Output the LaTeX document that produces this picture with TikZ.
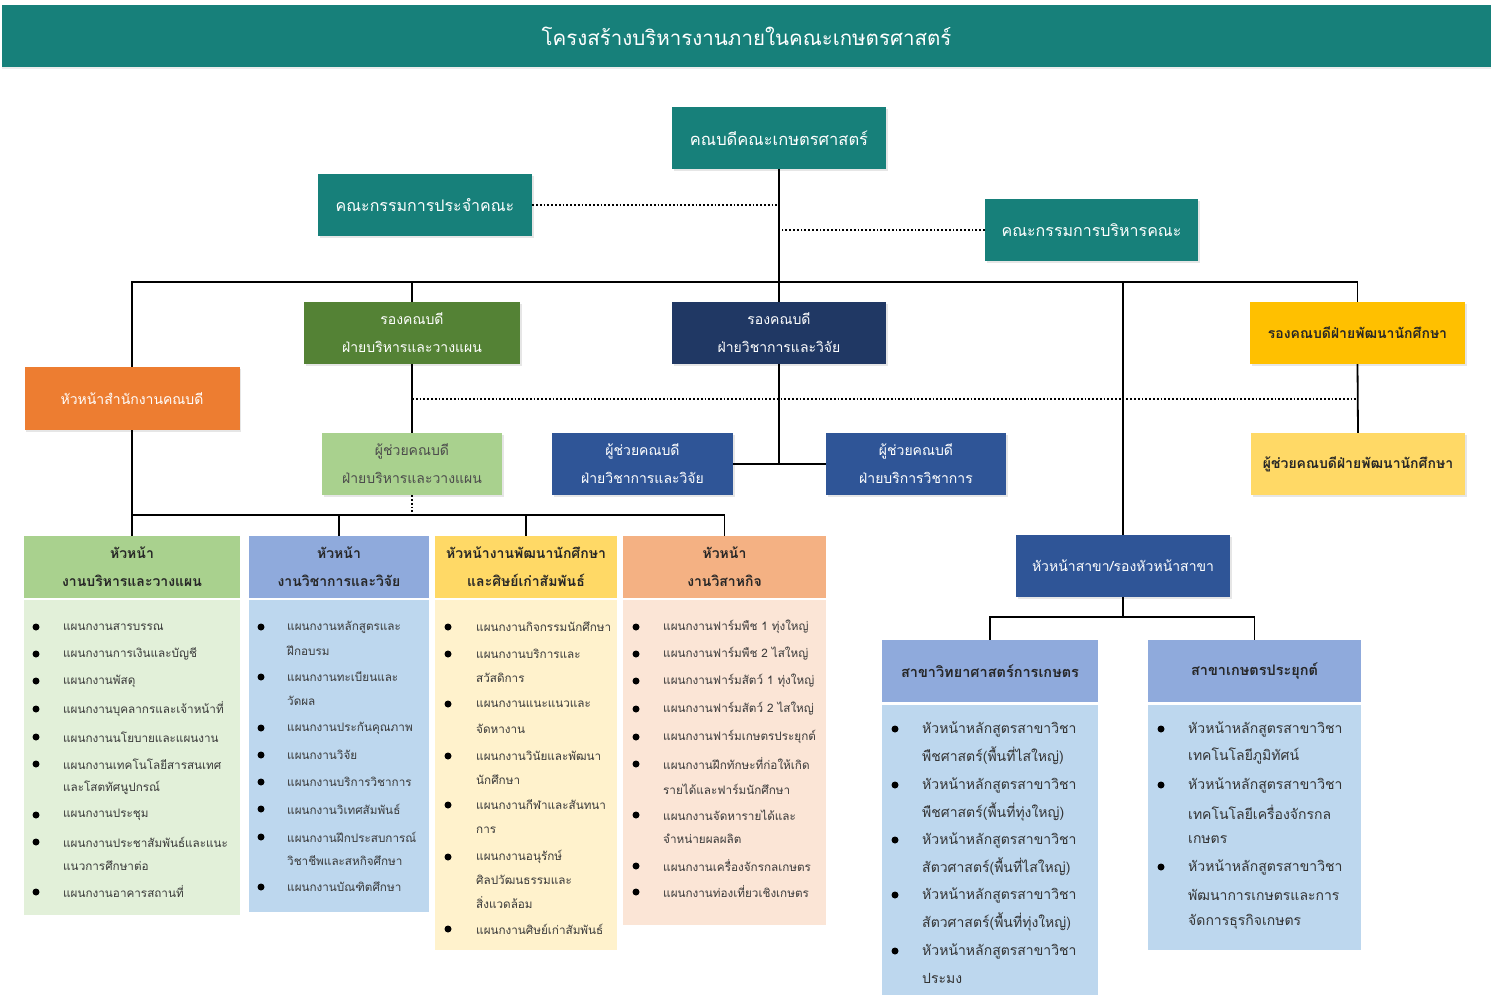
\documentclass[tikz,border=0pt]{standalone}
\usepackage{fontspec}
\usepackage{xcolor}
\newfontfamily\thaifont[Script=Thai]{Loma}
\usetikzlibrary{shadows}

\definecolor{facteal}{HTML}{17807A}
\definecolor{plangreen}{HTML}{548235}
\definecolor{acadnavy}{HTML}{203864}
\definecolor{studgold}{HTML}{FFC000}
\definecolor{officeorange}{HTML}{ED7D31}
\definecolor{asgreen}{HTML}{A9D18E}
\definecolor{asblue}{HTML}{2F5597}
\definecolor{asyellow}{HTML}{FFD966}
\definecolor{headblue}{HTML}{8FAADC}
\definecolor{bodyblue}{HTML}{BDD7EE}
\definecolor{bodygreen}{HTML}{E2F0D9}
\definecolor{bodyyellow}{HTML}{FFF2CC}
\definecolor{headpeach}{HTML}{F4B183}
\definecolor{bodypeach}{HTML}{FBE5D6}
\definecolor{listtext}{HTML}{3A3A3A}

\tikzset{
  box/.style={minimum height=62pt, inner sep=2pt, align=center, text=white,
    font=\thaifont\fontsize{14}{28}\selectfont,
    drop shadow={shadow xshift=1.5pt, shadow yshift=-1.5pt, opacity=0.2}},
  colhead/.style={minimum height=62pt, inner sep=2pt, align=center, text=black!85,
    font=\thaifont\bfseries\fontsize{14}{28}\selectfont},
  colbody/.style={inner sep=0pt},
  item/.style={anchor=west, inner sep=0pt, text=listtext, font=\thaifont\fontsize{11.7}{14}\selectfont},
  bigitem/.style={anchor=west, inner sep=0pt, text=black!80, font=\thaifont\fontsize{14}{16}\selectfont},
  conn/.style={line width=1.8pt, black},
  dot/.style={line width=1.8pt, black, dotted}
}

\begin{document}
\begin{tikzpicture}[x=1pt,y=-1pt]
  \useasboundingbox (0,0) rectangle (1491,996);

  % title bar
  \node[fill=facteal, minimum width=1489pt, minimum height=62pt, text=white,
    font=\thaifont\fontsize{20.5}{24}\selectfont,
    drop shadow={shadow xshift=0pt, shadow yshift=-2pt, opacity=0.15}] (title) at (746.5,36) {โครงสร้างบริหารงานภายในคณะเกษตรศาสตร์};

  % top level
  \node[box, fill=facteal, minimum width=214pt, font=\thaifont\fontsize{16.5}{20}\selectfont] (dean) at (779,138) {คณบดีคณะเกษตรศาสตร์};
  \node[box, fill=facteal, minimum width=214pt, font=\thaifont\fontsize{16}{20}\selectfont] (board) at (425,205) {คณะกรรมการประจำคณะ};
  \node[box, fill=facteal, minimum width=213pt, font=\thaifont\fontsize{16}{20}\selectfont] (exec) at (1091.5,230) {คณะกรรมการบริหารคณะ};

  % vice deans
  \node[box, fill=plangreen, minimum width=216pt] (vpPlan) at (412,333) {รองคณบดี\\ฝ่ายบริหารและวางแผน};
  \node[box, fill=acadnavy, minimum width=214pt] (vpAcad) at (779,333) {รองคณบดี\\ฝ่ายวิชาการและวิจัย};
  \node[box, fill=studgold, minimum width=215pt, text=black!85, font=\thaifont\bfseries\fontsize{14}{28}\selectfont] (vpStud) at (1357.5,333) {รองคณบดีฝ่ายพัฒนานักศึกษา};
  \node[box, fill=officeorange, minimum width=215pt, minimum height=63pt] (office) at (132,398.5) {หัวหน้าสำนักงานคณบดี};

  % assistants
  \node[box, fill=asgreen, minimum width=180pt, text=black!70] (asPlan) at (412,464) {ผู้ช่วยคณบดี\\ฝ่ายบริหารและวางแผน};
  \node[box, fill=asblue, minimum width=181pt] (asAcad) at (642.5,464) {ผู้ช่วยคณบดี\\ฝ่ายวิชาการและวิจัย};
  \node[box, fill=asblue, minimum width=180pt] (asServ) at (916,464) {ผู้ช่วยคณบดี\\ฝ่ายบริการวิชาการ};
  \node[box, fill=asyellow, minimum width=214pt, text=black!85, font=\thaifont\bfseries\fontsize{14}{28}\selectfont] (asStud) at (1358,464) {ผู้ช่วยคณบดีฝ่ายพัฒนานักศึกษา};

  \node[box, fill=asblue, minimum width=214pt] (branchHead) at (1123,566) {หัวหน้าสาขา/รองหัวหน้าสาขา};

  % column heads and bodies
  \node[colhead, fill=asgreen, minimum width=216pt] (h1) at (132,567) {หัวหน้า\\งานบริหารและวางแผน};
  \node[colhead, fill=headblue, minimum width=180pt] (h2) at (339,567) {หัวหน้า\\งานวิชาการและวิจัย};
  \node[colhead, fill=asyellow, minimum width=182pt] (h3) at (526,567) {หัวหน้างานพัฒนานักศึกษา\\และศิษย์เก่าสัมพันธ์};
  \node[colhead, fill=headpeach, minimum width=203pt] (h4) at (724.5,567) {หัวหน้า\\งานวิสาหกิจ};
  \node[colbody, fill=bodygreen, minimum width=216pt, minimum height=315pt] (b1) at (132,757.5) {};
  \node[colbody, fill=bodyblue, minimum width=180pt, minimum height=312pt] (b2) at (339,756) {};
  \node[colbody, fill=bodyyellow, minimum width=182pt, minimum height=350pt] (b3) at (526,775) {};
  \node[colbody, fill=bodypeach, minimum width=203pt, minimum height=325pt] (b4) at (724.5,762.5) {};

  % branches
  \node[colhead, fill=headblue, minimum width=216pt, font=\thaifont\bfseries\fontsize{14.5}{28}\selectfont] (s1) at (990,671) {สาขาวิทยาศาสตร์การเกษตร};
  \node[colhead, fill=headblue, minimum width=213pt, font=\thaifont\bfseries\fontsize{14.5}{28}\selectfont] (s2) at (1254.5,671) {สาขาเกษตรประยุกต์};
  \node[colbody, fill=bodyblue, minimum width=216pt, minimum height=290pt] (sb1) at (990,850) {};
  \node[colbody, fill=bodyblue, minimum width=213pt, minimum height=245pt] (sb2) at (1254.5,827.5) {};

  % lists
  \foreach \y/\t in {627/แผนกงานสารบรรณ, 654/แผนกงานการเงินและบัญชี, 681/แผนกงานพัสดุ,
      709/แผนกงานบุคลากรและเจ้าหน้าที่, 737/แผนกงานนโยบายและแผนงาน,
      764/แผนกงานเทคโนโลยีสารสนเทศ, 788/และโสตทัศนูปกรณ์, 815/แผนกงานประชุม,
      842/แผนกงานประชาสัมพันธ์และแนะ, 866/แนวการศึกษาต่อ, 892/แผนกงานอาคารสถานที่}
    \node[item] (l1-\y) at (63,\y) {\t};
  \foreach \y in {627,654,681,709,737,764,815,842,892}
    \fill (36,\y) circle (3.5pt);

  \foreach \y/\t in {627/แผนกงานหลักสูตรและ, 651/ฝึกอบรม, 677/แผนกงานทะเบียนและ, 701/วัดผล,
      728/แผนกงานประกันคุณภาพ, 755/แผนกงานวิจัย, 782/แผนกงานบริการวิชาการ,
      809/แผนกงานวิเทศสัมพันธ์, 837/แผนกงานฝึกประสบการณ์, 861/วิชาชีพและสหกิจศึกษา,
      887/แผนกงานบัณฑิตศึกษา}
    \node[item] (l2-\y) at (287,\y) {\t};
  \foreach \y in {627,677,728,755,782,809,837,887}
    \fill (261,\y) circle (3.5pt);

  \foreach \y/\t in {627/แผนกงานกิจกรรมนักศึกษา, 654/แผนกงานบริการและ, 678/สวัสดิการ,
      704/แผนกงานแนะแนวและ, 729/จัดหางาน, 756/แผนกงานวินัยและพัฒนา, 780/นักศึกษา,
      805/แผนกงานกีฬาและสันทนา, 830/การ, 857/แผนกงานอนุรักษ์, 880/ศิลปวัฒนธรรมและ,
      903/สิ่งแวดล้อม, 929/แผนกงานศิษย์เก่าสัมพันธ์}
    \node[item] (l3-\y) at (476,\y) {\t};
  \foreach \y in {627,654,704,756,805,857,929}
    \fill (448,\y) circle (3.5pt);

  \foreach \y/\t in {627/แผนกงานฟาร์มพืช 1 ทุ่งใหญ่, 654/แผนกงานฟาร์มพืช 2 ไสใหญ่,
      681/แผนกงานฟาร์มสัตว์ 1 ทุ่งใหญ่, 709/แผนกงานฟาร์มสัตว์ 2 ไสใหญ่,
      737/แผนกงานฟาร์มเกษตรประยุกต์, 764/แผนกงานฝึกทักษะที่ก่อให้เกิด,
      789/รายได้และฟาร์มนักศึกษา, 815/แผนกงานจัดหารายได้และ, 839/จำหน่ายผลผลิต,
      866/แผนกงานเครื่องจักรกลเกษตร, 892/แผนกงานท่องเที่ยวเชิงเกษตร}
    \node[item] (l4-\y) at (663,\y) {\t};
  \foreach \y in {627,654,681,709,737,764,815,866,892}
    \fill (636,\y) circle (3.5pt);

  \foreach \y/\t in {729/หัวหน้าหลักสูตรสาขาวิชา, 756/พืชศาสตร์(พื้นที่ไสใหญ่),
      785/หัวหน้าหลักสูตรสาขาวิชา, 812/พืชศาสตร์(พื้นที่ทุ่งใหญ่),
      840/หัวหน้าหลักสูตรสาขาวิชา, 867/สัตวศาสตร์(พื้นที่ไสใหญ่),
      895/หัวหน้าหลักสูตรสาขาวิชา, 922/สัตวศาสตร์(พื้นที่ทุ่งใหญ่),
      951/หัวหน้าหลักสูตรสาขาวิชา, 978/ประมง}
    \node[bigitem] (m1-\y) at (922,\y) {\t};
  \foreach \y in {729,785,840,895,951}
    \fill (895,\y) circle (3.5pt);

  \foreach \y/\t in {729/หัวหน้าหลักสูตรสาขาวิชา, 756/เทคโนโลยีภูมิทัศน์,
      785/หัวหน้าหลักสูตรสาขาวิชา, 812/เทคโนโลยีเครื่องจักรกล, 840/เกษตร,
      867/หัวหน้าหลักสูตรสาขาวิชา, 895/พัฒนาการเกษตรและการ, 922/จัดการธุรกิจเกษตร}
    \node[bigitem] (m2-\y) at (1188,\y) {\t};
  \foreach \y in {729,785,867}
    \fill (1161,\y) circle (3.5pt);

  % connectors
  \coordinate (bar) at (779,282);
  \coordinate (dline) at (779,399);
  \coordinate (cbar) at (132,515);
  \coordinate (sbar) at (1123,617);

  \draw[conn] (dean.south) -- (vpAcad.north);
  \draw[dot] (board.east) -- (board.east -| dean.south);
  \draw[dot] (exec.west) -- (exec.west -| dean.south);
  \draw[conn] (office.north) |- (bar) -| (vpStud.north);
  \draw[conn] (vpPlan.north) -- (vpPlan.north |- bar);
  \draw[conn] (branchHead.north) -- (branchHead.north |- bar);

  \draw[conn] (vpPlan.south) -- (asPlan.north);
  \draw[conn] (vpAcad.south) -- (vpAcad.south |- asAcad.east);
  \draw[conn] (asAcad.east) -- (asServ.west);
  \draw[conn] (vpStud.south) -- (asStud.north);
  \draw[dot] (vpPlan.south |- dline) -- (vpStud.south |- dline);

  \draw[conn] (office.south) -- (h1.north);
  \draw[conn] (cbar) -| (h4.north);
  \draw[conn] (h2.north) -- (h2.north |- cbar);
  \draw[conn] (h3.north) -- (h3.north |- cbar);
  \draw[dot] (asPlan.south) -- (asPlan.south |- cbar);

  \draw[conn] (branchHead.south) -- (sbar);
  \draw[conn] (s1.north) |- (sbar) -| (s2.north);
\end{tikzpicture}
\end{document}
